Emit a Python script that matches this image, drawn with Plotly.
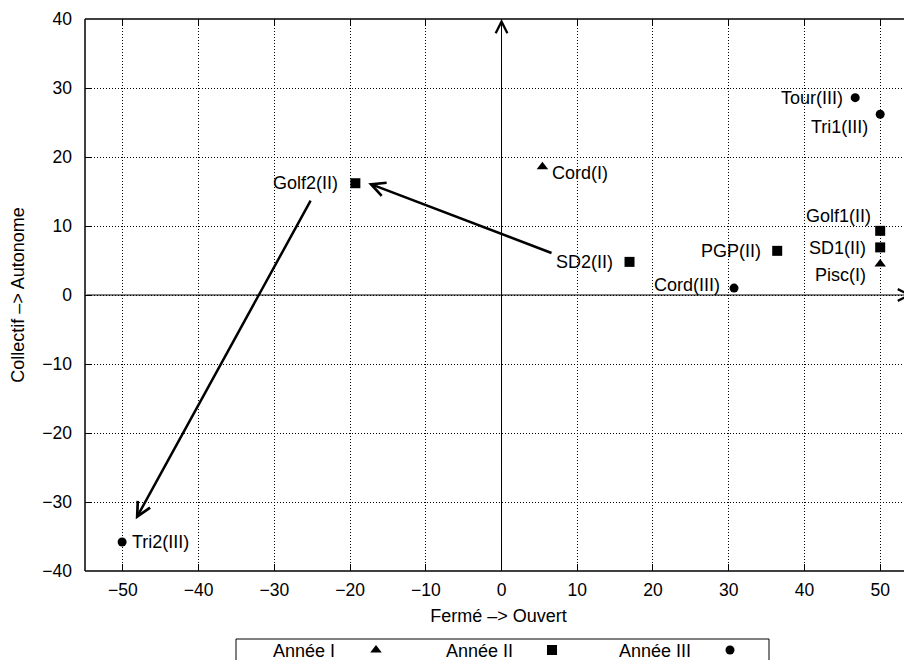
import plotly.graph_objects as go

# ---------------- data ----------------
labels_I = ["Cord(I)", "Pisc(I)"]
x_I = [5.4, 50.0]
y_I = [18.6, 4.5]

labels_II = ["Golf2(II)", "SD2(II)", "PGP(II)", "Golf1(II)", "SD1(II)"]
x_II = [-19.3, 16.9, 36.4, 50.0, 50.0]
y_II = [16.2, 4.8, 6.4, 9.3, 6.9]

labels_III = ["Tour(III)", "Tri1(III)", "Cord(III)", "Tri2(III)"]
x_III = [46.7, 50.0, 30.7, -50.1]
y_III = [28.6, 26.2, 1.0, -35.8]

# trajectory arrows (tail -> head)
arrow_tail_x = [6.8, -25.1]
arrow_tail_y = [6.0, 13.9]
arrow_head_x = [-17.6, -48.3]
arrow_head_y = [16.2, -32.5]

x_ticks = [-50, -40, -30, -20, -10, 0, 10, 20, 30, 40, 50]
y_ticks = [-40, -30, -20, -10, 0, 10, 20, 30, 40]
x_range = [-55, 54.2]
y_range = [-40, 40]

legend_names = ["Année I", "Année II", "Année III"]
x_title = "Fermé –> Ouvert"
y_title = "Collectif –> Autonome"

# ---------------- style ----------------
FONT = "Liberation Sans, Arial, Helvetica, sans-serif"
symbols = ["triangle-up", "square", "circle"]
msizes = [10, 10, 9]
# label placement per point: (xanchor, xshift px, yshift px)
place_I = [("left", 8, -6), ("right", -12, -11)]
place_II = [("right", -15, 0), ("right", -15, 0), ("right", -14, 0),
            ("right", -7, 15), ("right", -12, -1)]
place_III = [("right", -10, 0), ("right", -10, -13), ("right", -12, 3),
             ("left", 8, 0)]

# page geometry (the html body adds an 8px margin around the figure)
OFF = 8
PAGE_W, PAGE_H = 912, 660
W, H = PAGE_W - OFF, PAGE_H - OFF
L_PAGE, T_PAGE, BOTTOM_PAGE = 85, 19, 571
L, T = L_PAGE - OFF, T_PAGE - OFF
pw, ph = W - L, H - T


def px_to_paper_x(px):
    return (px - L_PAGE) / pw


def px_to_paper_y(py):
    return (PAGE_H - py) / ph


fig = go.Figure()

series = [(x_I, y_I, labels_I, place_I),
          (x_II, y_II, labels_II, place_II),
          (x_III, y_III, labels_III, place_III)]

annotations = []
for k, (xs, ys, labs, plc) in enumerate(series):
    fig.add_trace(go.Scatter(
        x=xs, y=ys, mode="markers", name=legend_names[k],
        marker=dict(symbol=symbols[k], size=msizes[k], color="black"),
        showlegend=False, cliponaxis=False,
        xaxis="x", yaxis="y"))
    for xv, yv, lab, (anc, dx, dy) in zip(xs, ys, labs, plc):
        annotations.append(dict(
            x=xv, y=yv, xref="x", yref="y", text=lab, showarrow=False,
            xanchor=anc, yanchor="middle", xshift=dx, yshift=dy,
            font=dict(family=FONT, size=18, color="black")))

# axis arrows through origin
annotations.append(dict(x=0, y=y_range[1], ax=0, ay=y_range[0],
                        xref="x", yref="y", axref="x", ayref="y",
                        text="", showarrow=True, arrowhead=5, arrowsize=2.3,
                        arrowwidth=1, arrowcolor="black"))
annotations.append(dict(x=x_range[1], y=0, ax=x_range[0], ay=0,
                        xref="x", yref="y", axref="x", ayref="y",
                        text="", showarrow=True, arrowhead=5, arrowsize=2.3,
                        arrowwidth=1, arrowcolor="black"))

# trajectory arrows
for tx, ty, hx, hy in zip(arrow_tail_x, arrow_tail_y, arrow_head_x, arrow_head_y):
    annotations.append(dict(x=hx, y=hy, ax=tx, ay=ty,
                            xref="x", yref="y", axref="x", ayref="y",
                            text="", showarrow=True, arrowhead=5, arrowsize=1.1,
                            arrowwidth=2.5, arrowcolor="black"))

# ---------------- custom legend (text then symbol) ----------------
leg_text_right = [337, 515, 693]
leg_sym_x = [376, 552, 730]
leg_box = [236, 769, 639]
leg_y = 651

for name, xr in zip(legend_names, leg_text_right):
    annotations.append(dict(x=px_to_paper_x(xr), y=px_to_paper_y(leg_y),
                            xref="paper", yref="paper", text=name,
                            showarrow=False, xanchor="right", yanchor="middle",
                            font=dict(family=FONT, size=18, color="black")))

for k in range(3):
    fig.add_trace(go.Scatter(
        x=[px_to_paper_x(leg_sym_x[k])], y=[0.5], mode="markers",
        marker=dict(symbol=symbols[k], size=msizes[k], color="black"),
        showlegend=False, hoverinfo="skip", cliponaxis=False,
        xaxis="x2", yaxis="y2"))

shapes = [
    # frame (left, top, bottom)
    dict(type="line", xref="x domain", yref="y domain", x0=0, x1=0, y0=0, y1=1,
         line=dict(color="black", width=1.5)),
    dict(type="line", xref="x domain", yref="y domain", x0=0, x1=1, y0=1, y1=1,
         line=dict(color="black", width=1.5)),
    dict(type="line", xref="x domain", yref="y domain", x0=0, x1=1, y0=0, y1=0,
         line=dict(color="black", width=1.5)),
    # legend box
    dict(type="rect", xref="paper", yref="paper",
         x0=px_to_paper_x(leg_box[0]), x1=px_to_paper_x(leg_box[1]),
         y0=-0.05, y1=px_to_paper_y(leg_box[2]),
         line=dict(color="black", width=1), fillcolor="rgba(0,0,0,0)"),
]

ydom0 = px_to_paper_y(BOTTOM_PAGE)
leg_ax_center = px_to_paper_y(650)

fig.update_layout(
    width=W, height=H,
    margin=dict(l=L, r=0, t=T, b=0, pad=0, autoexpand=False),
    plot_bgcolor="white", paper_bgcolor="white",
    font=dict(family=FONT, size=18, color="black"),
    showlegend=False,
    annotations=annotations,
    shapes=shapes,
    xaxis=dict(range=x_range, tickvals=x_ticks, ticks="inside", ticklen=7,
               tickcolor="black", tickwidth=1, mirror="ticks", showline=False,
               showgrid=True, gridcolor="black", gridwidth=1, griddash="1px,2px",
               zeroline=False, anchor="y", domain=[0, 1], automargin=False,
               ticklabelstandoff=6,
               tickfont=dict(family=FONT, size=17.5, color="black"),
               title=dict(text=x_title, standoff=10,
                          font=dict(family=FONT, size=18, color="black"))),
    yaxis=dict(range=y_range, tickvals=y_ticks, ticks="inside", ticklen=7,
               tickcolor="black", tickwidth=1, mirror="ticks", showline=False,
               showgrid=True, gridcolor="black", gridwidth=1, griddash="1px,2px",
               zeroline=False, anchor="x", domain=[ydom0, 1], automargin=False,
               ticklabelstandoff=12,
               tickfont=dict(family=FONT, size=17.5, color="black"),
               title=dict(text=y_title, standoff=16,
                          font=dict(family=FONT, size=18, color="black"))),
    xaxis2=dict(domain=[0, 1], range=[0, 1], visible=False, anchor="y2",
                fixedrange=True),
    yaxis2=dict(domain=[leg_ax_center - 0.01, leg_ax_center + 0.01],
                range=[0, 1], visible=False, anchor="x2", fixedrange=True),
)

fig.write_html("out.html")
